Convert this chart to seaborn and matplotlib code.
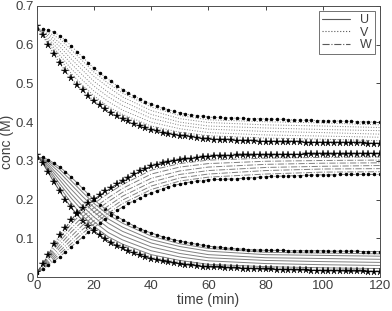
import numpy as np
import pandas as pd
import matplotlib
matplotlib.use('Agg')
import matplotlib.pyplot as plt
from matplotlib.lines import Line2D
import seaborn as sns

# time grid of the marked (bounding) curves, every 2 min
t_fine = list(range(0, 121, 2))
# coarser time grid of the gray curves in between
t_mid = [0, 4, 8, 12, 16, 20, 25, 30, 40, 50, 60, 80, 100, 120]

# V (dotted, top group)
v_star = [0.648, 0.624, 0.599, 0.575, 0.552, 0.532, 0.513, 0.496, 0.482, 0.468, 0.455,
          0.443, 0.433, 0.424, 0.416, 0.409, 0.402, 0.395, 0.389, 0.384, 0.380,
          0.376, 0.373, 0.370, 0.367, 0.365, 0.363, 0.361, 0.359, 0.357, 0.356,
          0.355, 0.354, 0.354, 0.353, 0.352, 0.352, 0.351, 0.351, 0.350, 0.350,
          0.350, 0.349, 0.349, 0.348, 0.348, 0.348, 0.347, 0.347, 0.347, 0.347,
          0.346, 0.346, 0.346, 0.345, 0.345, 0.345, 0.345, 0.344, 0.344, 0.344]
v_dot = [0.640, 0.640, 0.637, 0.632, 0.623, 0.611, 0.597, 0.582, 0.568, 0.553, 0.539,
         0.527, 0.516, 0.505, 0.494, 0.484, 0.475, 0.467, 0.460, 0.453, 0.447,
         0.441, 0.436, 0.432, 0.428, 0.424, 0.421, 0.419, 0.417, 0.415, 0.413,
         0.412, 0.412, 0.411, 0.411, 0.410, 0.410, 0.409, 0.409, 0.409, 0.408,
         0.408, 0.407, 0.407, 0.406, 0.406, 0.405, 0.405, 0.405, 0.404, 0.404,
         0.403, 0.403, 0.403, 0.402, 0.402, 0.401, 0.401, 0.401, 0.400, 0.400]
v_mid = [
    [0.647, 0.605, 0.563, 0.526, 0.495, 0.468, 0.440, 0.420, 0.390, 0.374, 0.365, 0.359, 0.356, 0.352],
    [0.646, 0.610, 0.573, 0.538, 0.508, 0.480, 0.453, 0.431, 0.400, 0.383, 0.373, 0.367, 0.364, 0.361],
    [0.645, 0.616, 0.584, 0.551, 0.521, 0.493, 0.465, 0.443, 0.410, 0.392, 0.382, 0.376, 0.373, 0.369],
    [0.644, 0.622, 0.595, 0.563, 0.534, 0.505, 0.477, 0.454, 0.420, 0.400, 0.390, 0.385, 0.381, 0.378],
    [0.643, 0.627, 0.605, 0.576, 0.546, 0.518, 0.490, 0.465, 0.430, 0.409, 0.399, 0.393, 0.390, 0.386],
    [0.641, 0.632, 0.615, 0.587, 0.558, 0.529, 0.500, 0.475, 0.439, 0.417, 0.406, 0.401, 0.398, 0.393],
]

# U (solid, falling group)
u_star = [0.315, 0.295, 0.270, 0.245, 0.222, 0.200, 0.180, 0.162, 0.146, 0.132, 0.119,
          0.108, 0.098, 0.089, 0.081, 0.074, 0.067, 0.061, 0.056, 0.052, 0.048,
          0.044, 0.041, 0.038, 0.036, 0.034, 0.032, 0.030, 0.029, 0.027, 0.026,
          0.025, 0.025, 0.024, 0.023, 0.023, 0.022, 0.022, 0.021, 0.021, 0.020,
          0.020, 0.019, 0.019, 0.019, 0.018, 0.018, 0.018, 0.017, 0.017, 0.016,
          0.016, 0.016, 0.016, 0.015, 0.015, 0.015, 0.015, 0.014, 0.014, 0.014]
u_dot = [0.307, 0.309, 0.303, 0.294, 0.284, 0.272, 0.258, 0.244, 0.229, 0.214, 0.200,
         0.187, 0.176, 0.166, 0.156, 0.148, 0.140, 0.132, 0.125, 0.119, 0.114,
         0.109, 0.104, 0.100, 0.096, 0.093, 0.090, 0.087, 0.085, 0.082, 0.080,
         0.078, 0.077, 0.075, 0.074, 0.073, 0.072, 0.071, 0.070, 0.070, 0.069,
         0.069, 0.069, 0.069, 0.068, 0.068, 0.068, 0.068, 0.068, 0.068, 0.068,
         0.067, 0.067, 0.067, 0.067, 0.067, 0.067, 0.066, 0.066, 0.066, 0.066]
u_mid = [
    [0.314, 0.276, 0.232, 0.192, 0.158, 0.131, 0.104, 0.085, 0.058, 0.043, 0.033, 0.027, 0.024, 0.022],
    [0.313, 0.281, 0.241, 0.204, 0.171, 0.143, 0.115, 0.096, 0.068, 0.052, 0.042, 0.035, 0.032, 0.030],
    [0.312, 0.286, 0.251, 0.215, 0.183, 0.155, 0.127, 0.107, 0.078, 0.061, 0.050, 0.043, 0.040, 0.038],
    [0.311, 0.291, 0.260, 0.227, 0.196, 0.168, 0.139, 0.118, 0.088, 0.070, 0.058, 0.050, 0.048, 0.046],
    [0.310, 0.296, 0.270, 0.239, 0.208, 0.180, 0.150, 0.129, 0.097, 0.079, 0.067, 0.058, 0.056, 0.054],
    [0.308, 0.300, 0.278, 0.249, 0.219, 0.190, 0.161, 0.139, 0.106, 0.086, 0.074, 0.064, 0.062, 0.060],
]

# W (dash-dot, rising group)
w_star = [0.012, 0.033, 0.057, 0.085, 0.108, 0.127, 0.147, 0.165, 0.178, 0.190, 0.201,
          0.211, 0.221, 0.231, 0.240, 0.249, 0.257, 0.265, 0.273, 0.280, 0.286,
          0.290, 0.294, 0.297, 0.300, 0.302, 0.304, 0.306, 0.308, 0.310, 0.311,
          0.312, 0.312, 0.313, 0.313, 0.314, 0.314, 0.314, 0.315, 0.315, 0.315,
          0.315, 0.316, 0.316, 0.316, 0.316, 0.316, 0.317, 0.317, 0.317, 0.317,
          0.317, 0.317, 0.317, 0.317, 0.318, 0.318, 0.318, 0.318, 0.318, 0.318]
w_dot = [0.010, 0.020, 0.031, 0.041, 0.053, 0.065, 0.078, 0.091, 0.103, 0.116, 0.128,
         0.139, 0.151, 0.161, 0.172, 0.181, 0.190, 0.197, 0.204, 0.211, 0.217,
         0.223, 0.228, 0.233, 0.237, 0.240, 0.243, 0.246, 0.248, 0.249, 0.251,
         0.252, 0.252, 0.253, 0.253, 0.254, 0.255, 0.256, 0.257, 0.258, 0.259,
         0.260, 0.260, 0.261, 0.261, 0.262, 0.262, 0.263, 0.263, 0.264, 0.264,
         0.264, 0.264, 0.265, 0.265, 0.265, 0.265, 0.265, 0.265, 0.265, 0.265]
w_mid = [
    [0.012, 0.053, 0.100, 0.137, 0.167, 0.190, 0.216, 0.239, 0.276, 0.293, 0.302, 0.307, 0.309, 0.310],
    [0.012, 0.049, 0.092, 0.126, 0.156, 0.179, 0.205, 0.229, 0.266, 0.284, 0.293, 0.299, 0.301, 0.302],
    [0.011, 0.045, 0.083, 0.116, 0.145, 0.168, 0.195, 0.219, 0.255, 0.274, 0.284, 0.291, 0.294, 0.295],
    [0.011, 0.041, 0.075, 0.105, 0.134, 0.157, 0.184, 0.209, 0.245, 0.265, 0.275, 0.283, 0.286, 0.288],
    [0.011, 0.037, 0.067, 0.095, 0.123, 0.146, 0.174, 0.199, 0.235, 0.256, 0.266, 0.275, 0.279, 0.280],
    [0.010, 0.034, 0.060, 0.086, 0.113, 0.137, 0.165, 0.190, 0.226, 0.248, 0.258, 0.266, 0.271, 0.272],
]

species = ['U', 'V', 'W']
styles = {'U': '-', 'V': ':', 'W': '-.'}

sns.set_style('white')
plt.rcParams['font.family'] = ['Liberation Sans', 'DejaVu Sans']

fig = plt.figure(figsize=(3.92, 3.11), dpi=100)
ax = fig.add_axes([0.094, 0.109, 0.875, 0.872])

groups = {'U': (u_star, u_dot, u_mid), 'V': (v_star, v_dot, v_mid), 'W': (w_star, w_dot, w_mid)}
gray = '0.5'
for sp in species:
    star, dot, mids = groups[sp]
    ls = styles[sp]
    for m in mids:
        sns.lineplot(x=t_mid, y=m, ax=ax, color=gray, linestyle=ls, linewidth=0.7)
    sns.lineplot(x=t_fine, y=dot, ax=ax, color=gray, linestyle=ls, linewidth=0.7,
                 marker='.', markersize=3.5, markerfacecolor='k', markeredgecolor='k')
    sns.lineplot(x=t_fine, y=star, ax=ax, color='0.3', linestyle=ls, linewidth=0.7,
                 marker='*', markersize=5.5, markerfacecolor='k', markeredgecolor='k',
                 markeredgewidth=0.3)

ax.set_xlim(0, 120)
ax.set_ylim(0, 0.7)
ax.set_xticks([0, 20, 40, 60, 80, 100, 120])
ax.set_yticks([0, 0.1, 0.2, 0.3, 0.4, 0.5, 0.6, 0.7])
ax.set_yticklabels(['0', '0.1', '0.2', '0.3', '0.4', '0.5', '0.6', '0.7'])
ax.tick_params(direction='in', length=3, width=0.6, top=True, right=True,
               labelsize=9.5, labelcolor='0.25', pad=2)
for s in ax.spines.values():
    s.set_color('0.3')
    s.set_linewidth(0.7)
ax.set_xlabel('time (min)', fontsize=10, color='0.25', labelpad=1)
ax.set_ylabel('conc (M)', fontsize=10, color='0.25', labelpad=1)

handles = [Line2D([0], [0], color='0.35', linestyle=styles[sp], linewidth=0.8) for sp in species]
leg = ax.legend(handles, species, loc='upper right', fontsize=9, frameon=True, fancybox=False,
                handlelength=2.2, handletextpad=0.8, borderpad=0.25, labelspacing=0.05,
                borderaxespad=0.4)
leg.get_frame().set_edgecolor('0.3')
leg.get_frame().set_linewidth(0.7)
for txt in leg.get_texts():
    txt.set_color('0.25')

fig.savefig('out.png', dpi=100)
